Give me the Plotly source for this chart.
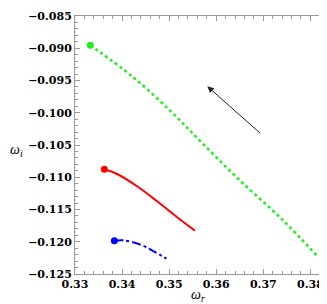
import plotly.graph_objects as go

# Data
green_x = [0.33326, 0.34213, 0.35049, 0.35666, 0.36447, 0.37404, 0.38149]
green_y = [-0.08954, -0.09435, -0.09988, -0.10443, -0.11012, -0.11658, -0.12226]
red_x = [0.33623, 0.33894, 0.34319, 0.34745, 0.35170, 0.35547]
red_y = [-0.10877, -0.10950, -0.11140, -0.11373, -0.11621, -0.11828]
blue_x = [0.33836, 0.34036, 0.34390, 0.34674, 0.34943]
blue_y = [-0.11983, -0.11978, -0.12045, -0.12148, -0.12263]
arrow_tail = (0.3700, -0.1036)
arrow_head = (0.3581, -0.0959)

x_ticks = [0.33, 0.34, 0.35, 0.36, 0.37, 0.38]
x_labels = ["0.33", "0.34", "0.35", "0.36", "0.37", "0.38"]
y_ticks = [-0.085, -0.09, -0.095, -0.1, -0.105, -0.11, -0.115, -0.12, -0.125]
y_labels = ["\u22120.085", "\u22120.090", "\u22120.095", "\u22120.100", "\u22120.105",
            "\u22120.110", "\u22120.115", "\u22120.120", "\u22120.125"]

SERIF = "Liberation Serif"

fig = go.Figure()
fig.add_trace(go.Scatter(x=green_x, y=green_y, mode="lines",
                         line=dict(color="#22ee22", width=2.5, dash="dot", shape="spline")))
fig.add_trace(go.Scatter(x=[green_x[0]], y=[green_y[0]], mode="markers",
                         marker=dict(color="#22ee22", size=7)))
fig.add_trace(go.Scatter(x=red_x, y=red_y, mode="lines",
                         line=dict(color="#ff0000", width=2, shape="spline")))
fig.add_trace(go.Scatter(x=[red_x[0]], y=[red_y[0]], mode="markers",
                         marker=dict(color="#ff0000", size=7)))
fig.add_trace(go.Scatter(x=blue_x, y=blue_y, mode="lines",
                         line=dict(color="#0000ff", width=2, dash="dashdot", shape="spline")))
fig.add_trace(go.Scatter(x=[blue_x[0]], y=[blue_y[0]], mode="markers",
                         marker=dict(color="#0000ff", size=7)))

fig.add_annotation(x=arrow_head[0], y=arrow_head[1], ax=arrow_tail[0], ay=arrow_tail[1],
                   xref="x", yref="y", axref="x", ayref="y", text=" ", showarrow=True,
                   arrowhead=2, arrowsize=1.3, arrowwidth=1, arrowcolor="#222222",
                   font=dict(size=10))

fig.add_annotation(x=-0.225, y=0.48, xref="paper", yref="paper", text="<i>ω<sub>i</sub></i>",
                   showarrow=False, font=dict(family=SERIF, size=14, color="black"),
                   xanchor="center", yanchor="middle")
fig.add_annotation(x=0.475, y=-0.085, xref="paper", yref="paper", text="<i>ω<sub>r</sub></i>",
                   showarrow=False, font=dict(family=SERIF, size=14, color="black"),
                   xanchor="center", yanchor="middle")

axis_common = dict(showgrid=False, zeroline=False, showline=True, linecolor="#999999",
                   linewidth=1, mirror="allticks", ticks="inside", ticklen=5,
                   tickcolor="#999999", tickwidth=1)

fig.update_xaxes(range=[0.33, 0.3848], tickvals=x_ticks, ticktext=x_labels,
                 minor=dict(dtick=0.002, ticks="inside", ticklen=3, tickcolor="#999999"),
                 **axis_common)
fig.update_yaxes(range=[-0.125, -0.085], tickvals=y_ticks, ticktext=y_labels,
                 minor=dict(dtick=0.001, ticks="inside", ticklen=3, tickcolor="#999999"),
                 **axis_common)

fig.update_layout(width=327, height=304, showlegend=False,
                  margin=dict(l=67, r=2, t=8, b=38),
                  font=dict(family=SERIF),
                  xaxis_tickfont=dict(family="DejaVu Serif", size=11, color="#000000", weight=700),
                  yaxis_tickfont=dict(family="DejaVu Serif", size=11, color="#000000", weight=700),
                  plot_bgcolor="white", paper_bgcolor="white")

fig.write_html("out.html")
